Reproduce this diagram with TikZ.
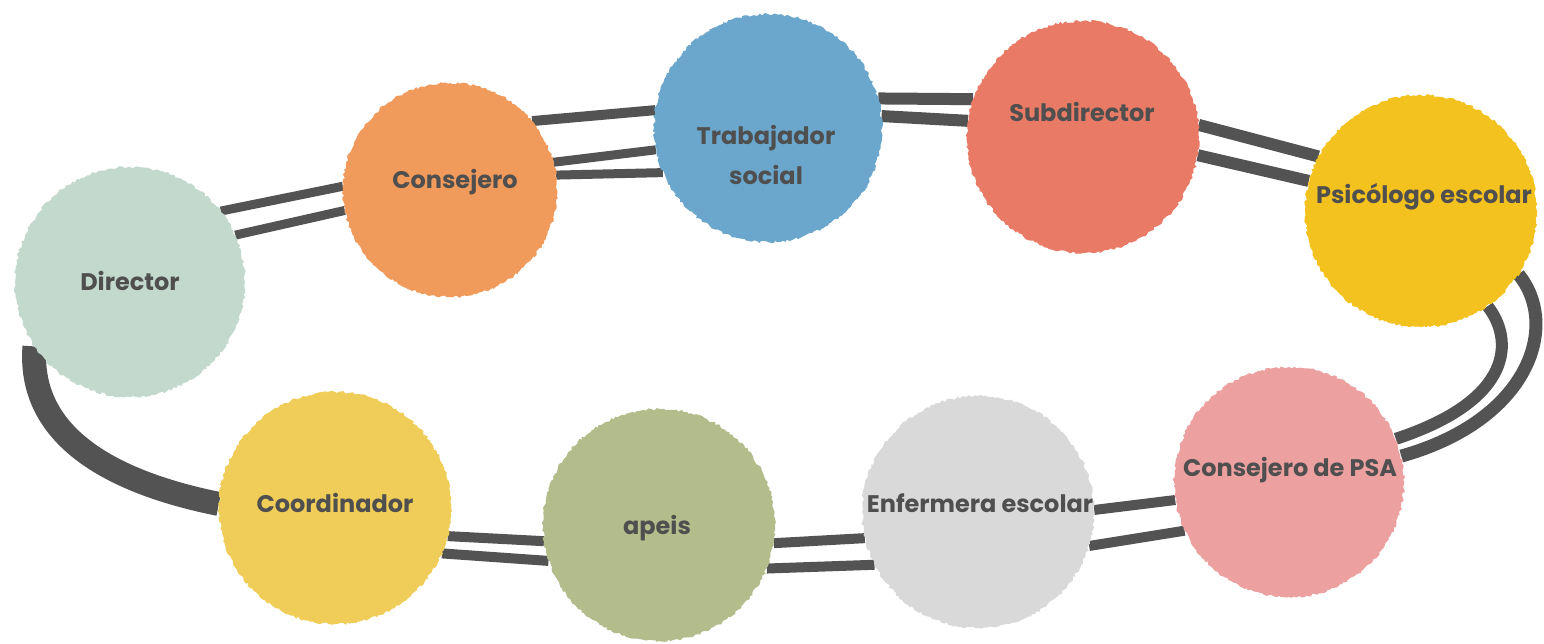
\documentclass[tikz,border=0pt]{standalone}
\usepackage{fontspec}
\setmainfont{Poppins}
\usepackage{xcolor}
\usepackage{tikz}
\usetikzlibrary{positioning,%
  calc,%
  decorations.pathmorphing
}
\definecolor{ink}{HTML}{4F4F4F}
\definecolor{ropegray}{HTML}{535353}
\definecolor{cdirector}{HTML}{C3D9CE}
\definecolor{cconsejero}{HTML}{F09A5B}
\definecolor{ctrabajador}{HTML}{6BA7CC}
\definecolor{csubdirector}{HTML}{E97B66}
\definecolor{cpsicologo}{HTML}{F4C21F}
\definecolor{cpsa}{HTML}{EDA0A0}
\definecolor{cenfermera}{HTML}{D9D9D9}
\definecolor{capeis}{HTML}{B3BC8B}
\definecolor{ccoordinador}{HTML}{F0CD58}
\pgfdeclarelayer{bg}
\pgfsetlayers{bg,main}

\begin{document}
\begin{tikzpicture}[x=1pt,y=-1pt,
    blob/.style={circle, inner sep=0pt, minimum size=232pt, fill=#1,
      decorate, decoration={random steps,segment length=2.5pt,amplitude=1.3pt}},
    lbl/.style={font=\fontsize{24}{40}\selectfont\bfseries, text=ink, align=center, inner sep=0pt},
    band/.style={draw=ropegray, line width=#1},
    band/.default=10pt]
            \pgfmathsetseed{12}
            \useasboundingbox (0,0) rectangle (1544,643);

            \node[blob=cdirector, minimum size=230pt] (director) at (130,282) {};
            \node[blob=cconsejero, minimum size=214pt] (consejero) at (450,190) {};
            \node[blob=ctrabajador, minimum size=228pt] (trabajador) at (768,128) {};
            \node[blob=csubdirector] (subdirector) at (1083,137) {};
            \node[blob=cpsicologo] (psicologo) at (1421,211) {};
            \node[blob=cpsa, minimum size=230pt] (psa) at (1289,482) {};
            \node[blob=cenfermera] (enfermera) at (978,512) {};
            \node[blob=capeis] (apeis) at (659,525) {};
            \node[blob=ccoordinador] (coordinador) at (335,508) {};

            \node[lbl] (t-director) at ([shift={(0,-1)}]director) {Director};
            \node[lbl] (t-consejero) at ([shift={(5,-8)}]consejero) {Consejero};
            \node[lbl] (t-trabajador) at ([shift={(-2,27)}]trabajador) {Trabajador\\social};
            \node[lbl] (t-subdirector) at ([shift={(-1,-25)}]subdirector) {Subdirector};
            \node[lbl] (t-psicologo) at ([shift={(3,-14)}]psicologo) {Psicólogo escolar};
            \node[lbl] (t-psa) at ([shift={(1,-12)}]psa) {Consejero de PSA};
            \node[lbl] (t-enfermera) at ([shift={(2,-9)}]enfermera) {Enfermera escolar};
            \node[lbl] (t-apeis) at ([shift={(-2,3)}]apeis) {apeis};
            \node[lbl] (t-coordinador) at ([shift={(0,-5)}]coordinador) {Coordinador};

            \begin{pgfonlayer}{bg}
            \draw[band=9pt] (director.38) -- (consejero.178);
            \draw[band=9pt] (director.24) -- (consejero.191);

            \draw[band] (consejero.40) -- (trabajador.171);
            \draw[band=9pt] (consejero.15) -- (trabajador.191);
            \draw[band=9pt] (consejero.8) -- (trabajador.203);

            \draw[band=12pt] (trabajador.15) -- (subdirector.161);
            \draw[band=12pt] (trabajador.6) -- (subdirector.172);

            \draw[band=12pt] (subdirector.6) -- (psicologo.152);
            \draw[band=12pt] (subdirector.-9) -- (psicologo.165);

            \draw[band=13pt] (psicologo.-33) .. controls (1560,325) and (1530,420) .. (psa.13);
            \draw[band=12pt] (psicologo.-55) .. controls (1514,340) and (1514,400) .. (psa.22);

            \draw[band] (enfermera.1) -- (psa.189);
            \draw[band] (enfermera.-17) -- (psa.205);

            \draw[band] (apeis.-9) -- (enfermera.193);
            \draw[band] (apeis.-22) -- (enfermera.207);

            \draw[band] (coordinador.-14) -- (apeis.188);
            \draw[band] (coordinador.-23) -- (apeis.198);

            %\draw[band=12pt] (director.212) -- (coordinador.178);
            \draw[band=24pt] (director.214) .. controls (28,430) and (100,480) .. (coordinador.178);
            \end{pgfonlayer}
        \end{tikzpicture}
\end{document}
